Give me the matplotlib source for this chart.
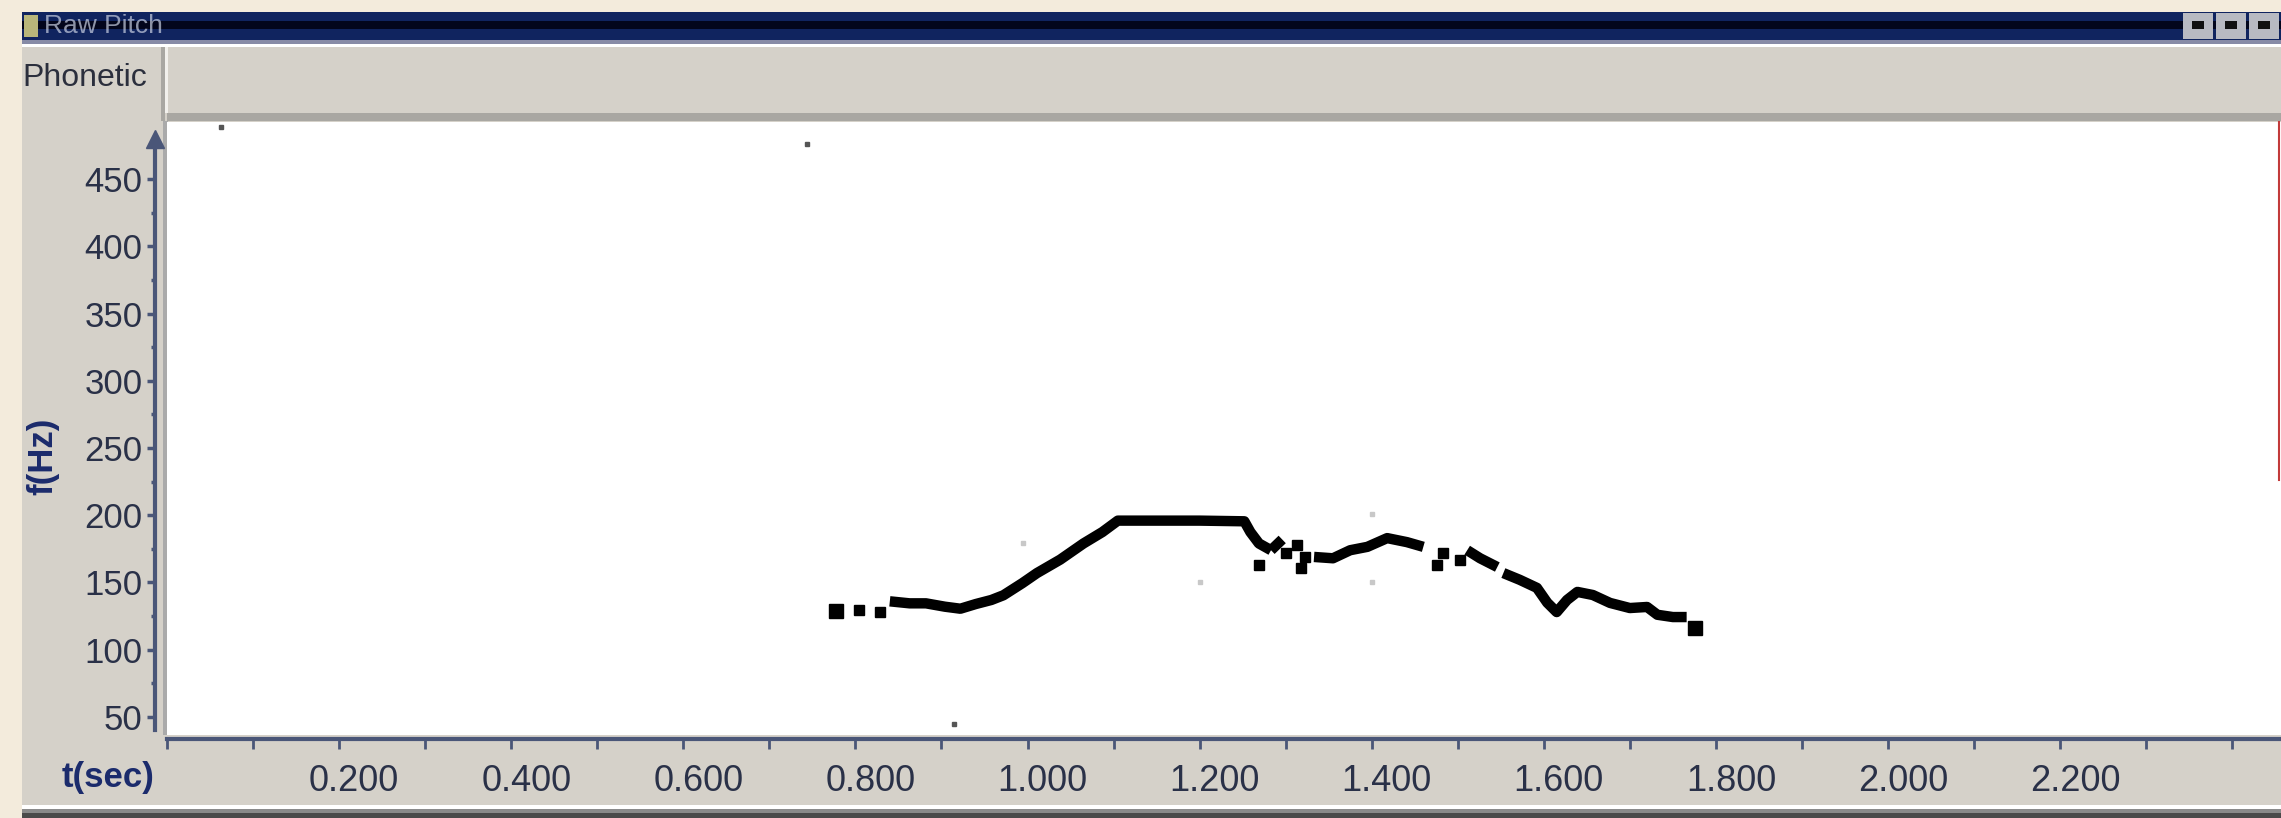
import matplotlib
matplotlib.use("Agg")
import matplotlib.pyplot as plt
from matplotlib.patches import Rectangle
from matplotlib.transforms import ScaledTranslation

# pitch track: time (s), pitch (Hz)
rise_t = [0.840, 0.863, 0.882, 0.904, 0.922, 0.940, 0.958, 0.972, 0.994, 1.011,
          1.038, 1.065, 1.087, 1.105, 1.150, 1.200, 1.252, 1.259, 1.269, 1.283]
rise_f = [136, 134.5, 134.5, 132, 130.5, 134, 137, 140.5, 149.5, 157,
          167, 179, 187.5, 196, 196, 196, 195.5, 187.5, 179, 174]
hook_t = [1.283, 1.296]
hook_f = [174, 182]
mid_t = [1.333, 1.355, 1.375, 1.395, 1.418, 1.441, 1.460]
mid_f = [169, 168, 174, 176.5, 183, 180, 176.5]
short_t = [1.511, 1.526, 1.546]
short_f = [174, 168, 161.5]
fall_t = [1.553, 1.572, 1.592, 1.604, 1.615, 1.627, 1.639, 1.657, 1.677,
          1.700, 1.720, 1.732, 1.750, 1.766]
fall_f = [157, 152, 146, 135, 128, 137, 143, 140.7, 134.8,
          131, 131.8, 126, 124.3, 124.3]
dots_t = [0.804, 0.829, 1.269, 1.300, 1.313, 1.323, 1.318, 1.476, 1.483, 1.503]
dots_f = [129.5, 128, 163, 172, 178, 169, 161, 163, 172, 166.5]
big_t = [0.777, 1.776]
big_f = [128.5, 116]
faint_t = [0.063, 0.744, 0.915, 0.995, 1.200, 1.400, 1.400]
faint_f = [489, 476, 45, 179, 150, 201, 150]

y_ticks = [50, 100, 150, 200, 250, 300, 350, 400, 450]
y_minor = [75, 125, 175, 225, 275, 325, 375, 425]
x_ticks = [0.2, 0.4, 0.6, 0.8, 1.0, 1.2, 1.4, 1.6, 1.8, 2.0, 2.2]
x_minor = [0.0, 0.1, 0.3, 0.5, 0.7, 0.9, 1.1, 1.3, 1.5, 1.7, 1.9, 2.1, 2.3, 2.4]

W, H = 2281, 818
narrow = ['Liberation Sans', 'DejaVu Sans']
axcol = '#4a5678'
labcol = '#2a3148'
navy = '#1b2b6c'

fig = plt.figure(figsize=(W / 100, H / 100), dpi=100)

# window chrome drawn in pixel coords
bg = fig.add_axes([0, 0, 1, 1], zorder=0)
bg.set_xlim(0, W)
bg.set_ylim(H, 0)
bg.axis('off')


def rect(x0, y0, x1, y1, c):
    bg.add_patch(Rectangle((x0, y0), x1 - x0, y1 - y0, color=c, lw=0))


rect(0, 0, W, H, '#f3ebdc')
rect(22, 12, W, 40, '#10245f')
rect(22, 21, W, 29, '#03061c')
rect(22, 40, W, 44, '#878ba6')
rect(22, 44, W, 47, '#ffffff')
rect(24, 15, 38, 37, '#b9b67a')
bg.text(44, 26, 'Raw Pitch', fontsize=19, color='#c9d0e2', va='center',
        family=narrow, alpha=0.7)
for bx in [2183, 2216, 2249]:
    rect(bx, 13, bx + 30, 39, '#b8bac2')
    rect(bx + 9, 21, bx + 21, 29, '#111111')
rect(22, 47, W, 805, '#d5d1c9')
rect(167, 113, W, 121, '#a9a7a2')
rect(161, 47, 165, 121, '#a9a7a2')
rect(165, 47, 168, 113, '#f2f0ec')
bg.text(22, 78, 'Phonetic', fontsize=23, color='#2b2f3d', va='center',
        family=narrow)
rect(163, 121, 168, 735, '#aaaaaa')
rect(22, 805, W, 809, '#ffffff')
rect(22, 809, W, 813, '#8a8a8a')
rect(22, 813, W, H, '#4a4a4a')
bg.plot(155, 139, marker='^', ms=13, color=axcol, mec=axcol)
bg.text(43, 456, 'f(Hz)', rotation=90, fontsize=25, fontweight='bold',
        color=navy, ha='center', va='center', family=narrow)
bg.text(108, 778, 't(sec)', fontsize=25, fontweight='bold', color=navy,
        ha='center', va='center', family=narrow)

# plot area
ax = fig.add_axes([167 / W, (H - 735) / H, (W - 167) / W, (735 - 122) / H], zorder=2)
ax.set_facecolor('white')
ax.set_xlim(0, 2114 / 860.5)
ax.set_ylim(36.6, 492.4)

for t, f in [(rise_t, rise_f), (hook_t, hook_f), (mid_t, mid_f),
             (short_t, short_f), (fall_t, fall_f)]:
    ax.plot(t, f, color='black', lw=7.5, solid_capstyle='butt',
            solid_joinstyle='round', clip_on=False)
ax.plot(dots_t, dots_f, 's', color='black', ms=6.5, clip_on=False)
ax.plot(big_t, big_f, 's', color='black', ms=10.5, clip_on=False)
ax.plot(faint_t[:3], faint_f[:3], 's', color='#555555', ms=2.5)
ax.plot(faint_t[3:], faint_f[3:], 's', color='#c8c8c8', ms=3)

# cursor line at the right edge
ax.axvline(2112 / 860.5, ymin=0.416, ymax=1.0, color='#c23a3a', lw=1.5,
           clip_on=False)

for s in ['top', 'right']:
    ax.spines[s].set_visible(False)
ax.spines['left'].set_position(('outward', 8.6))
ax.spines['left'].set_bounds(40.3, 479)
ax.spines['bottom'].set_position(('outward', 2.9))
ax.spines['bottom'].set_bounds(0, 2114 / 860.5)
for s in ['left', 'bottom']:
    ax.spines[s].set_color(axcol)
    ax.spines[s].set_linewidth(3)

ax.set_yticks(y_ticks)
ax.set_yticks(y_minor, minor=True)
ax.set_yticklabels([str(v) for v in y_ticks], family=narrow, fontsize=25,
                   color=labcol)
ax.set_xticks(x_ticks)
ax.set_xticks(x_minor, minor=True)
ax.set_xticklabels(['%.3f' % v for v in x_ticks], family=narrow, fontsize=26,
                   color=labcol)
ax.tick_params(axis='y', which='major', direction='out', length=6, width=2.5,
               color=axcol, pad=3)
ax.tick_params(axis='y', which='minor', direction='out', length=3, width=2.5,
               color=axcol)
ax.tick_params(axis='x', which='both', direction='out', length=7, width=2,
               color=axcol, pad=11)
shift = ScaledTranslation(0.15, 0, fig.dpi_scale_trans)
for lab in ax.get_xticklabels():
    lab.set_transform(lab.get_transform() + shift)

fig.savefig('out.png', dpi=100)
